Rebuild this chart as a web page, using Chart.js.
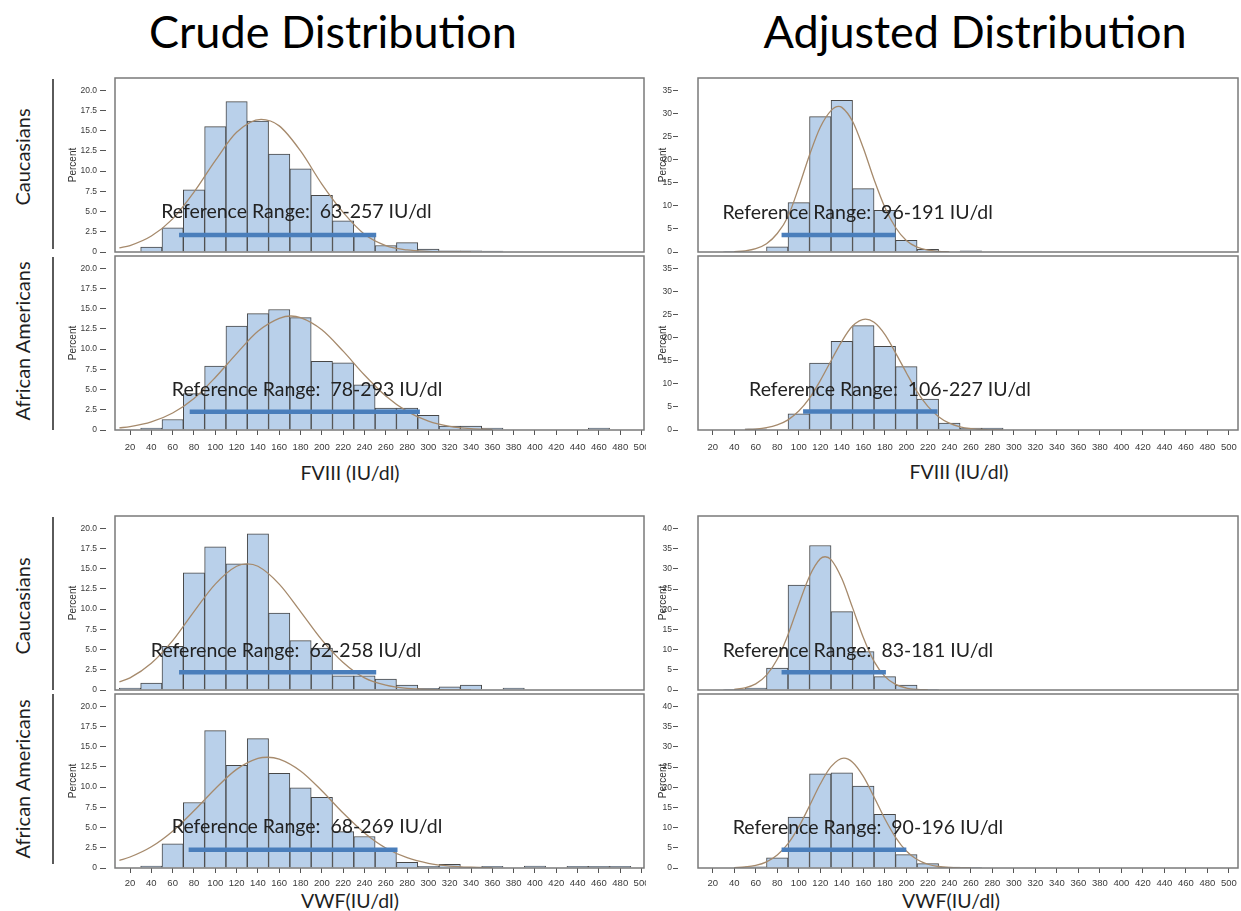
<!DOCTYPE html>
<html><head><meta charset="utf-8">
<script src="https://cdn.jsdelivr.net/npm/chart.js@4.4.1/dist/chart.umd.min.js"></script>
<style>
html,body{margin:0;padding:0;background:#fff}
body{width:1241px;height:911px;position:relative;overflow:hidden}
.tt{position:absolute;font-family:Lato,"Liberation Sans",sans-serif;color:#000;white-space:nowrap;line-height:1}
.h{font-size:45px;transform:translateX(-50%)}
.rl{font-size:20px;color:#1e1e1e;transform:translate(-50%,-50%) rotate(-90deg)}
.ax{font-size:19.5px;color:#1e1e1e;transform:translate(-50%,-50%)}
.sep{position:absolute;left:52px;width:1.5px;background:#5a5a5a}
#clipL{position:absolute;left:0;top:0;width:646px;height:911px;overflow:hidden}
</style></head><body>
<div class="tt h" style="left:333px;top:9px">Crude Distribution</div>
<div class="tt h" style="left:975px;top:9px">Adjusted Distribution</div>
<div class="tt rl" style="left:22px;top:157px">Caucasians</div>
<div class="tt rl" style="left:22px;top:341px">African Americans</div>
<div class="tt rl" style="left:22px;top:606px">Caucasians</div>
<div class="tt rl" style="left:22px;top:779px">African Americans</div>
<div class="sep" style="top:79px;height:170px"></div>
<div class="sep" style="top:257px;height:173px"></div>
<div class="sep" style="top:517px;height:173px"></div>
<div class="sep" style="top:694px;height:170px"></div>
<div class="tt ax" style="left:350px;top:473px">FVIII (IU/dl)</div>
<div class="tt ax" style="left:959px;top:472px">FVIII (IU/dl)</div>
<div class="tt ax" style="left:350px;top:901px">VWF(IU/dl)</div>
<div class="tt ax" style="left:951px;top:901px">VWF(IU/dl)</div>
<div id="clipL"></div>
<script>
// ---------- data ----------
const binCenters = [20,40,60,80,100,120,140,160,180,200,220,240,260,280,300,320,340,360,380,400,420,440,460,480];
const xTicks = [20,40,60,80,100,120,140,160,180,200,220,240,260,280,300,320,340,360,380,400,420,440,460,480,500];
const yTicksCrude = [0,2.5,5,7.5,10,12.5,15,17.5,20];
const yTicksAdjF = [0,5,10,15,20,25,30,35];
const yTicksAdjV = [0,5,10,15,20,25,30,35,40];

// percent per bin (bins centred on binCenters)
const crudeFviiiCauc = [null,0.6,3.0,7.7,15.5,18.6,16.2,12.1,10.3,7.0,3.85,2.3,0.8,1.15,0.35,0.15,0.15,0.1,null,null,null,null,null,null];
const crudeFviiiAA   = [null,0.25,1.3,4.5,7.9,12.85,14.4,14.9,13.9,8.5,8.3,5.6,2.7,2.7,1.8,0.5,0.5,0.25,null,null,null,null,0.25,null];
const crudeVwfCauc   = [0.25,0.87,5.4,14.5,17.7,15.6,19.3,9.5,6.1,5.2,1.75,1.75,1.35,0.6,0.2,0.4,0.6,null,0.25,null,null,null,null,null];
const crudeVwfAA     = [null,0.25,3.0,8.1,17.0,12.7,16.0,11.7,9.9,8.75,4.5,3.9,2.4,0.7,0.2,0.45,0.12,0.2,null,0.25,null,0.2,0.2,0.2];
const adjFviiiCauc   = [null,0.15,null,1.1,10.7,29.3,32.8,13.7,9.0,2.5,0.6,null,0.25,null,null,null,null,null,null,null,null,null,null,null];
const adjFviiiAA     = [null,null,0.25,null,3.5,14.5,19.2,22.6,18.1,13.7,6.7,1.5,0.4,0.4,null,null,null,null,null,null,null,null,null,null];
const adjVwfCauc     = [null,0.15,0.5,5.4,26.0,35.8,19.4,9.5,3.3,1.2,0.15,null,null,null,null,null,null,null,null,null,null,null,null,null];
const adjVwfAA       = [null,null,0.3,2.55,12.6,23.3,23.6,20.3,13.3,3.3,1.07,0.2,0.15,null,null,null,null,null,null,null,null,null,null,null];

// fitted normal curves
const crudeFviiiCaucCurveX = [10,20,40,60,80,100,120,143,160,180,200,220,240,260,280,300,320,340];
const crudeFviiiCaucCurveY = [0.5,0.8,1.97,4.1,7.4,11.3,14.8,16.4,15.6,12.5,8.4,4.9,2.2,0.8,0.25,0.08,0.02,0.01];
const crudeFviiiAACurveX = [10,20,40,60,80,100,120,140,160,171,180,200,220,240,260,280,300,320,340,360];
const crudeFviiiAACurveY = [0.26,0.42,1.0,2.1,3.9,6.5,9.45,12.2,13.8,14.1,13.9,12.4,9.75,6.8,4.2,2.3,1.1,0.46,0.17,0.06];
const crudeVwfCaucCurveX = [10,20,40,60,80,100,120,130,140,160,180,200,220,240,260,280,300,320,340];
const crudeVwfCaucCurveY = [1.0,1.5,3.3,6.1,9.7,13.1,15.3,15.6,15.3,13.1,9.7,6.2,3.4,1.5,0.6,0.2,0.06,0.02,0.005];
const crudeVwfAACurveX = [10,20,40,60,80,100,120,140,149,160,180,200,220,240,260,280,300,320,340,360];
const crudeVwfAACurveY = [0.94,1.36,2.63,4.56,7.07,9.81,12.2,13.55,13.7,13.47,12.0,9.55,6.8,4.34,2.47,1.27,0.58,0.24,0.09,0.03];
const adjFviiiCaucCurveX = [40,50,60,70,80,90,100,110,120,130,137,140,150,160,170,180,190,200,210,220,230,240];
const adjFviiiCaucCurveY = [0.08,0.25,0.72,1.8,4.0,7.7,14.0,21.0,27.0,30.6,31.5,31.3,28.3,22.5,15.7,9.7,5.3,2.5,1.05,0.39,0.13,0.04];
const adjFviiiAACurveX = [50,60,70,80,90,100,110,120,130,140,150,162,170,180,190,200,210,220,230,240,250,260,270,280,290];
const adjFviiiAACurveY = [0.08,0.2,0.49,1.1,2.2,4.1,6.9,10.7,15.0,19.2,22.5,24.0,23.3,20.7,16.7,12.4,8.3,5.1,2.88,1.47,0.69,0.29,0.11,0.04,0.01];
const adjVwfCaucCurveX = [40,50,60,70,80,90,100,110,120,124.5,130,140,150,160,170,180,190,200,210,220];
const adjVwfCaucCurveY = [0.17,0.54,1.52,3.67,7.6,13.7,21.2,28.2,32.5,33.0,32.3,27.6,20.4,13.0,7.1,3.38,1.38,0.49,0.15,0.04];
const adjVwfAACurveX = [40,50,60,70,80,90,100,110,120,130,142,150,160,170,180,190,200,210,220,230,240,250,260];
const adjVwfAACurveY = [0.08,0.25,0.65,1.53,3.22,6.05,10.2,15.4,20.8,25.1,27.2,26.2,22.7,17.6,12.2,7.6,4.2,2.1,0.93,0.37,0.13,0.04,0.01];

// reference range bars (x from, x to) and their height
const refRanges = [[66,251],[76,292],[66,251],[75,271],[84,190],[104,229],[84,181],[84,200]];
const refLevels = [2.1,2.25,2.2,2.27,3.7,4.0,4.4,4.5];
const refTexts = ['Reference Range:  63-257 IU/dl','Reference Range:  78-293 IU/dl','Reference Range:  62-258 IU/dl','Reference Range:  68-269 IU/dl',
                  'Reference Range:  96-191 IU/dl','Reference Range:  106-227 IU/dl','Reference Range:  83-181 IU/dl','Reference Range:  90-196 IU/dl'];
const refTextAt = [[49.2,4.96],[59.2,5.0],[39.5,4.87],[59.2,5.07],[29,8.46],[53.8,8.75],[29.3,9.75],[38.5,10.0]];

// ---------- layout ----------
const COLS = {
  L: {left:115, right:644, xMin:5.9, xMax:502.3, tl:15, dash:[6,50], lp:3, tp:12},
  R: {left:698, right:1238, xMin:6.3, xMax:508.4, tl:25, dash:[5,50], lp:1, tp:19}
};
const ROWS = [
  {top:78, bottom:252, axis:false},
  {top:256, bottom:430, axis:true, axisH:30, tickPad:7},
  {top:516, bottom:690, axis:false},
  {top:694, bottom:868, axis:true, axisH:30, tickPad:5}
];
const fmtCrude = v => v === 0 ? '0' : v.toFixed(1);
const fmtAdj = v => String(v);

const panels = [
  {col:'L', row:0, bars:crudeFviiiCauc, cx:crudeFviiiCaucCurveX, cy:crudeFviiiCaucCurveY, yMax:21.52, yTicks:yTicksCrude, fmt:fmtCrude},
  {col:'L', row:1, bars:crudeFviiiAA,   cx:crudeFviiiAACurveX,   cy:crudeFviiiAACurveY,   yMax:21.52, yTicks:yTicksCrude, fmt:fmtCrude},
  {col:'L', row:2, bars:crudeVwfCauc,   cx:crudeVwfCaucCurveX,   cy:crudeVwfCaucCurveY,   yMax:21.52, yTicks:yTicksCrude, fmt:fmtCrude},
  {col:'L', row:3, bars:crudeVwfAA,     cx:crudeVwfAACurveX,     cy:crudeVwfAACurveY,     yMax:21.52, yTicks:yTicksCrude, fmt:fmtCrude},
  {col:'R', row:0, bars:adjFviiiCauc,   cx:adjFviiiCaucCurveX,   cy:adjFviiiCaucCurveY,   yMax:37.66, yTicks:yTicksAdjF, fmt:fmtAdj},
  {col:'R', row:1, bars:adjFviiiAA,     cx:adjFviiiAACurveX,     cy:adjFviiiAACurveY,     yMax:37.66, yTicks:yTicksAdjF, fmt:fmtAdj},
  {col:'R', row:2, bars:adjVwfCauc,     cx:adjVwfCaucCurveX,     cy:adjVwfCaucCurveY,     yMax:43.1,  yTicks:yTicksAdjV, fmt:fmtAdj},
  {col:'R', row:3, bars:adjVwfAA,       cx:adjVwfAACurveX,       cy:adjVwfAACurveY,       yMax:43.1,  yTicks:yTicksAdjV, fmt:fmtAdj}
];

const framePlugin = {
  id: 'frame',
  afterDatasetsDraw(chart, args, opts) {
    const {ctx, chartArea: a, scales} = chart;
    ctx.save();
    ctx.strokeStyle = '#7a7a7a';
    ctx.lineWidth = 1.5;
    ctx.strokeRect(a.left, a.top, a.right - a.left, a.bottom - a.top);
    ctx.font = '19.5px Lato, "Liberation Sans", sans-serif';
    ctx.fillStyle = '#222';
    ctx.textBaseline = 'middle';
    ctx.textAlign = 'left';
    ctx.fillText(opts.text, scales.x.getPixelForValue(opts.tx), scales.y.getPixelForValue(opts.ty));
    ctx.restore();
  }
};

const tickFont = {family:'"Liberation Sans", Arial, sans-serif', size:9.5};

function makePanel(p, i) {
  const col = COLS[p.col], row = ROWS[p.row];
  const yW = 60, padR = 6, padT = 4;
  const fw = col.right - col.left, fh = row.bottom - row.top;
  const axisH = row.axis ? row.axisH : 0;
  const w = yW + fw + padR, h = padT + fh + (row.axis ? axisH : 4);
  const cv = document.createElement('canvas');
  cv.width = w; cv.height = h;
  cv.style.cssText = 'position:absolute;left:' + (col.left - yW) + 'px;top:' + (row.top - padT) + 'px;width:' + w + 'px;height:' + h + 'px';
  (p.col === 'L' ? document.getElementById('clipL') : document.body).appendChild(cv);
  const bars = binCenters.map((x, k) => ({x: x, y: p.bars[k]}));
  const curve = p.cx.map((x, k) => ({x: x, y: p.cy[k]}));
  const ref = refRanges[i].map(x => ({x: x, y: refLevels[i]}));
  new Chart(cv, {
    type: 'bar',
    data: {datasets: [
      {type:'line', data:ref, borderColor:'#4a7ebb', borderWidth:4.5, pointRadius:0, borderCapStyle:'butt', order:1},
      {type:'line', data:curve, borderColor:'#a68a6c', borderWidth:1.3, pointRadius:0, cubicInterpolationMode:'monotone', order:2},
      {type:'bar', data:bars, backgroundColor:'#b9d0ea', borderColor:'#474747', borderWidth:1, barPercentage:1, categoryPercentage:1, order:3}
    ]},
    options: {
      responsive:false, animation:false, devicePixelRatio:1, events:[],
      layout:{padding:{left:0, top:padT, right:padR, bottom: row.axis ? 0 : 4}},
      plugins:{legend:{display:false}, tooltip:{enabled:false},
        frame:{text:refTexts[i], tx:refTextAt[i][0], ty:refTextAt[i][1]}},
      scales:{
        x:{type:'linear', min:col.xMin, max:col.xMax, offset:false, display:row.axis,
          afterBuildTicks: s => { s.ticks = xTicks.map(v => ({value:v})); },
          afterFit: s => { s.height = axisH; s.paddingLeft = 0; s.paddingRight = 0; },
          grid:{display:true, drawOnChartArea:false, drawTicks:true, tickLength:5, tickColor:'#555', tickWidth:1, offset:false},
          border:{display:false},
          ticks:{autoSkip:false, maxRotation:0, minRotation:0, padding:row.tickPad, color:'#3a3a3a', font:tickFont, callback: v => String(v)}
        },
        y:{type:'linear', min:0, max:p.yMax,
          afterBuildTicks: s => { s.ticks = p.yTicks.map(v => ({value:v})); },
          afterFit: s => { s.width = yW; s.paddingTop = 0; s.paddingBottom = 0; },
          grid:{display:true, drawOnChartArea:false, drawTicks:true, tickLength:col.tl, tickBorderDash:col.dash, tickColor:'#555', tickWidth:1},
          border:{display:false},
          ticks:{padding:col.lp, color:'#3a3a3a', font:{family:tickFont.family, size:8.5}, callback: v => p.fmt(v)},
          title:{display:true, text:'Percent', color:'#333', font:{family:tickFont.family, size:10}, padding:{top:col.tp, bottom:0}}
        }
      }
    },
    plugins:[framePlugin]
  });
}
panels.forEach(makePanel);
</script>
</body></html>
